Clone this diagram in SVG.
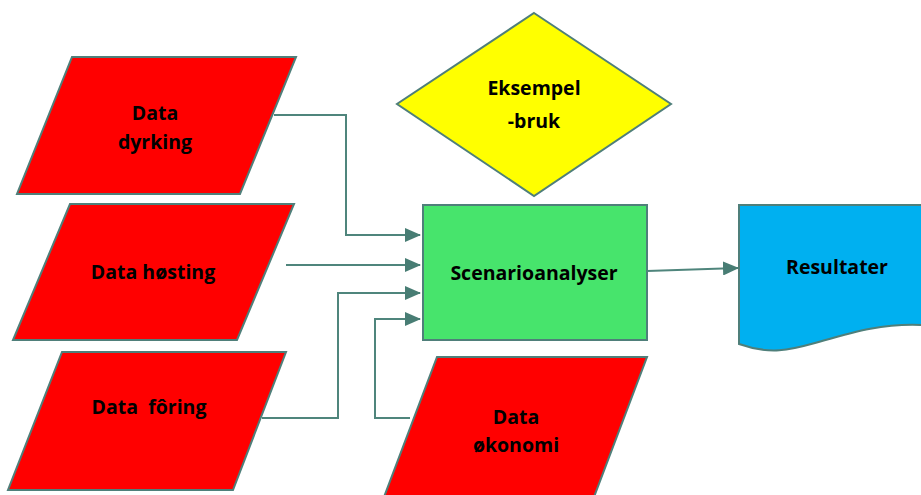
<svg xmlns="http://www.w3.org/2000/svg" width="921" height="495" viewBox="0 0 921 495">
<defs>
<marker id="ah" markerWidth="16" markerHeight="14" refX="15" refY="7" orient="auto" markerUnits="userSpaceOnUse">
<path d="M0,0 L16,7 L0,14 Z" fill="#487d74"/>
</marker>
<style>
.sh{stroke:#4f7f7a;stroke-width:2}
.red{fill:#ff0000}
.t{font-family:"Open Sans","Liberation Sans",sans-serif;font-weight:bold;font-size:19.5px;fill:#000;text-anchor:middle}
.c{fill:none;stroke:#4f857c;stroke-width:2}
</style>
</defs>
<rect width="921" height="495" fill="#fff"/>
<g id="dyrking">
<polygon class="sh red" points="72,57 296,57 240,194 17,194"/>
<text class="t" x="155" y="120">Data</text>
<text class="t" x="155" y="149">dyrking</text>
</g>
<g id="hosting">
<polygon class="sh red" points="70,204 294,204 237,340 13,340"/>
<text class="t" x="153" y="279">Data høsting</text>
</g>
<g id="foring">
<polygon class="sh red" points="62,352 286,352 233,490 8,490"/>
<text class="t" x="149" y="414" xml:space="preserve">Data  fôring</text>
</g>
<g id="okonomi">
<polygon class="sh red" points="437,357 647,357 594,497 384,497"/>
<text class="t" x="516" y="424">Data</text>
<text class="t" x="516" y="452">økonomi</text>
</g>
<g id="eksempel">
<polygon class="sh" fill="#ffff00" points="534,13 671,104 534,196 397,104"/>
<text class="t" x="534" y="95">Eksempel</text>
<text class="t" x="534" y="128">-bruk</text>
</g>
<g id="scenario">
<rect class="sh" x="423" y="205" width="224" height="135" fill="#47e46c"/>
<text class="t" x="534" y="280">Scenarioanalyser</text>
</g>
<g id="resultater">
<path class="sh" fill="#00b0f0" d="M739,205 L923,205 L923,325 C880,323 850,333 815,343 C790,350 770,355 739,344 Z"/>
<text class="t" x="837" y="274">Resultater</text>
</g>
<g id="connectors">
<polyline class="c" points="274,115 346,115 346,235 420,235" marker-end="url(#ah)"/>
<polyline class="c" points="286,265 420,265" marker-end="url(#ah)"/>
<polyline class="c" points="262,418 338,418 338,293 420,293" marker-end="url(#ah)"/>
<polyline class="c" points="410,418 375,418 375,319 420,319" marker-end="url(#ah)"/>
<polyline class="c" points="647,271 738,268" marker-end="url(#ah)"/>
</g>
</svg>
